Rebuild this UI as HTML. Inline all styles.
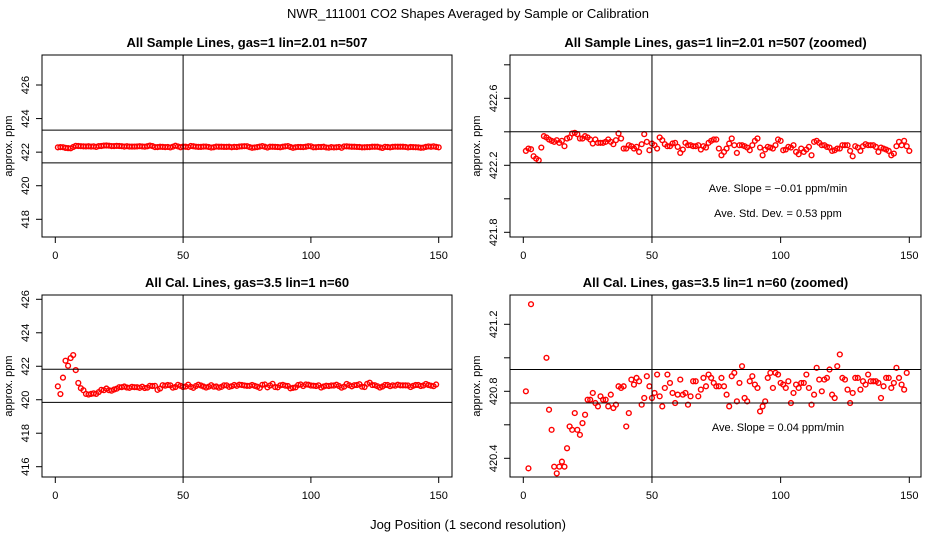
<!DOCTYPE html>
<html><head><meta charset="utf-8"><style>
body{margin:0;background:#fff;}
svg{display:block;font-family:"Liberation Sans",sans-serif;}
</style></head><body>
<svg id="chart" width="936" height="540" viewBox="0 0 936 540">
<rect width="936" height="540" fill="#fff"/>
<text x="468" y="18" text-anchor="middle" font-size="13">NWR_111001  CO2 Shapes Averaged by Sample or Calibration</text>
<text x="468" y="529" text-anchor="middle" font-size="13">Jog Position (1 second resolution)</text>
</svg>
<script>
const sampleValues=[422.286,422.300,422.296,422.254,422.240,422.230,422.306,422.374,422.366,422.354,
422.346,422.340,422.350,422.334,422.346,422.314,422.360,422.366,422.390,422.394,
422.386,422.360,422.360,422.374,422.366,422.354,422.330,422.354,422.334,422.334,
422.334,422.340,422.354,422.340,422.326,422.350,422.390,422.360,422.300,422.300,
422.320,422.314,422.300,422.310,422.280,422.326,422.386,422.340,422.290,422.330,
422.320,422.300,422.366,422.350,422.326,422.314,422.314,422.330,422.334,422.310,
422.274,422.294,422.334,422.320,422.320,422.314,422.314,422.320,422.294,422.314,
422.306,422.334,422.346,422.354,422.354,422.300,422.260,422.280,422.300,422.330,
422.360,422.320,422.274,422.320,422.320,422.314,422.306,422.290,422.320,422.346,
422.360,422.306,422.260,422.294,422.310,422.306,422.300,422.320,422.354,422.346,
422.290,422.294,422.310,422.306,422.320,422.280,422.266,422.300,422.280,422.294,
422.310,422.260,422.340,422.346,422.334,422.320,422.320,422.310,422.306,422.286,
422.290,422.300,422.300,422.320,422.320,422.320,422.286,422.254,422.314,422.306,
422.286,422.314,422.326,422.320,422.320,422.320,422.310,422.280,422.306,422.300,
422.294,422.286,422.260,422.270,422.314,422.340,422.320,422.346,422.314,422.286];
const calValues=[420.80,420.34,421.32,422.33,422.03,422.49,422.67,421.77,421.00,420.69,420.57,
420.35,420.31,420.35,420.38,420.35,420.46,420.59,420.57,420.67,420.57,
420.54,420.61,420.66,420.75,420.75,420.79,420.73,420.71,420.77,420.75,
420.75,420.71,420.78,420.70,420.72,420.83,420.82,420.83,420.59,420.67,
420.87,420.84,420.88,420.86,420.72,420.76,420.89,420.83,420.76,420.79,
420.90,420.77,420.71,420.82,420.90,420.85,420.79,420.73,420.78,420.87,
420.78,420.79,420.72,420.77,420.86,420.86,420.77,420.81,420.88,420.83,
420.90,420.88,420.85,420.83,420.83,420.88,420.83,420.78,420.71,420.89,
420.91,420.74,420.85,420.95,420.76,420.74,420.86,420.89,420.84,420.82,
420.68,420.71,420.74,420.88,420.91,420.82,420.91,420.90,420.85,420.84,
420.82,420.86,420.73,420.79,420.84,420.82,420.85,420.85,420.90,420.82,
420.72,420.78,420.94,420.87,420.80,420.87,420.88,420.93,420.78,420.76,
420.95,421.02,420.88,420.87,420.81,420.73,420.79,420.88,420.88,420.81,
420.86,420.84,420.90,420.86,420.86,420.86,420.85,420.76,420.83,420.88,
420.88,420.82,420.85,420.94,420.88,420.84,420.81,420.91];
const xTicks=[0,50,100,150];
const ticksTL=[418,420,422,424,426];
const labelsTL=["418","420","422","424","426"];
const ticksTR=[421.8,422.0,422.2,422.4,422.6,422.8];
const labelsTR=["421.8","","422.2","","422.6",""];
const ticksBL=[416,418,420,422,424,426];
const labelsBL=["416","418","420","422","424","426"];
const ticksBR=[420.4,420.6,420.8,421.0,421.2];
const labelsBR=["420.4","","420.8","","421.2"];
const refTL=[423.31,421.36], refTR=[422.4,422.215], refBL=[421.82,419.84], refBR=[420.93,420.73];

const svg=document.getElementById('chart');
const NS='http://www.w3.org/2000/svg';
function mk(tag,attrs,parent){const e=document.createElementNS(NS,tag);for(const k in attrs)e.setAttribute(k,attrs[k]);(parent||svg).appendChild(e);return e;}

function panel(p){
  const g=mk('g',{});
  
  
  const sx=v=>p.x0+(v-0)*(p.x150-p.x0)/150;
  const sy=v=>p.yA+(v-p.vA)*(p.yB-p.yA)/(p.vB-p.vA);
  const t=mk('text',{x:(p.L+p.R)/2,y:p.T-8,'text-anchor':'middle','font-size':13,'font-weight':'bold'},g);
  t.textContent=p.title;
  
  
  const cid='clip'+p.id;
  const cp=mk('clipPath',{id:cid},g);mk('rect',{x:p.L,y:p.T,width:p.R-p.L,height:p.B-p.T},cp);
  const pts=mk('g',{'clip-path':'url(#'+cid+')'},g);
  
  
  p.data.forEach((v,i)=>{
    const c=mk('circle',{cx:sx(p.xs(i)),cy:sy(v),r:2.4,fill:'none',stroke:'#f00','stroke-width':1.4},pts);
    
    
  });
  const vl=mk('line',{x1:sx(50),x2:sx(50),y1:p.T,y2:p.B,stroke:'#000','stroke-width':1},g);
  
  
  p.refs.forEach(r=>{
    const l=mk('line',{x1:p.L,x2:p.R,y1:sy(r),y2:sy(r),stroke:'#000','stroke-width':1},g);
    
    
  });
  const box=mk('rect',{x:p.L,y:p.T,width:p.R-p.L,height:p.B-p.T,fill:'none',stroke:'#000','stroke-width':1},g);
  
  
  xTicks.forEach(v=>{
    mk('line',{x1:sx(v),x2:sx(v),y1:p.B,y2:p.B+6,stroke:'#000'},g);
    const tl=mk('text',{x:sx(v),y:p.B+22,'text-anchor':'middle','font-size':11},g);
    tl.textContent=v;
    
    
  });
  p.ticks.forEach((v,i)=>{
    const y=sy(v);
    mk('line',{x1:p.L-6,x2:p.L,y1:y,y2:y,stroke:'#000'},g);
    if(p.labels[i]){
      const tl=mk('text',{x:p.L-13,y:y,'text-anchor':'middle','font-size':11,transform:'rotate(-90 '+(p.L-13)+' '+y+')',dy:'0'},g);
      tl.textContent=p.labels[i];
      
      
    }
  });
  const yl=mk('text',{x:p.L-30,y:(p.T+p.B)/2,'text-anchor':'middle','font-size':11,transform:'rotate(-90 '+(p.L-30)+' '+((p.T+p.B)/2)+')'},g);
  yl.textContent='approx. ppm';
  
  
  (p.notes||[]).forEach(n=>{
    const tx=mk('text',{x:n.x,y:n.y,'text-anchor':'middle','font-size':11},g);
    tx.textContent=n.t;
    
    
  });
}
const idx1=i=>i+1;
const idxCal=i=>i<11?i+1:12+(i-11)*138/138;
panel({id:1,name:'panel-sample-full',title:'All Sample Lines, gas=1 lin=2.01 n=507',L:42,R:452,T:55,B:237,x0:55.3,x150:438.7,yA:85,vA:426,yB:219.3,vB:418,data:sampleValues,xs:idx1,ticks:ticksTL,labels:labelsTL,refs:refTL});
panel({id:2,name:'panel-sample-zoomed',title:'All Sample Lines, gas=1 lin=2.01 n=507 (zoomed)',L:510,R:921,T:55,B:237,x0:523.3,x150:909.3,yA:98.3,vA:422.6,yB:232.3,vB:421.8,data:sampleValues,xs:idx1,ticks:ticksTR,labels:labelsTR,refs:refTR,
  notes:[{x:778,y:192,t:'Ave. Slope =  \u22120.01  ppm/min'},{x:778,y:217,t:'Ave. Std. Dev. =  0.53  ppm'}]});
panel({id:3,name:'panel-cal-full',title:'All Cal. Lines, gas=3.5 lin=1 n=60',L:42,R:452,T:295,B:477,x0:55.3,x150:438.7,yA:299.3,vA:426,yB:466.7,vB:416,data:calValues,xs:idxCal,ticks:ticksBL,labels:labelsBL,refs:refBL});
panel({id:4,name:'panel-cal-zoomed',title:'All Cal. Lines, gas=3.5 lin=1 n=60 (zoomed)',L:510,R:921,T:295,B:477,x0:523.3,x150:909.3,yA:324.3,vA:421.2,yB:458.3,vB:420.4,data:calValues,xs:idxCal,ticks:ticksBR,labels:labelsBR,refs:refBR,
  notes:[{x:778,y:431,t:'Ave. Slope =  0.04  ppm/min'}]});
</script>
</body></html>
